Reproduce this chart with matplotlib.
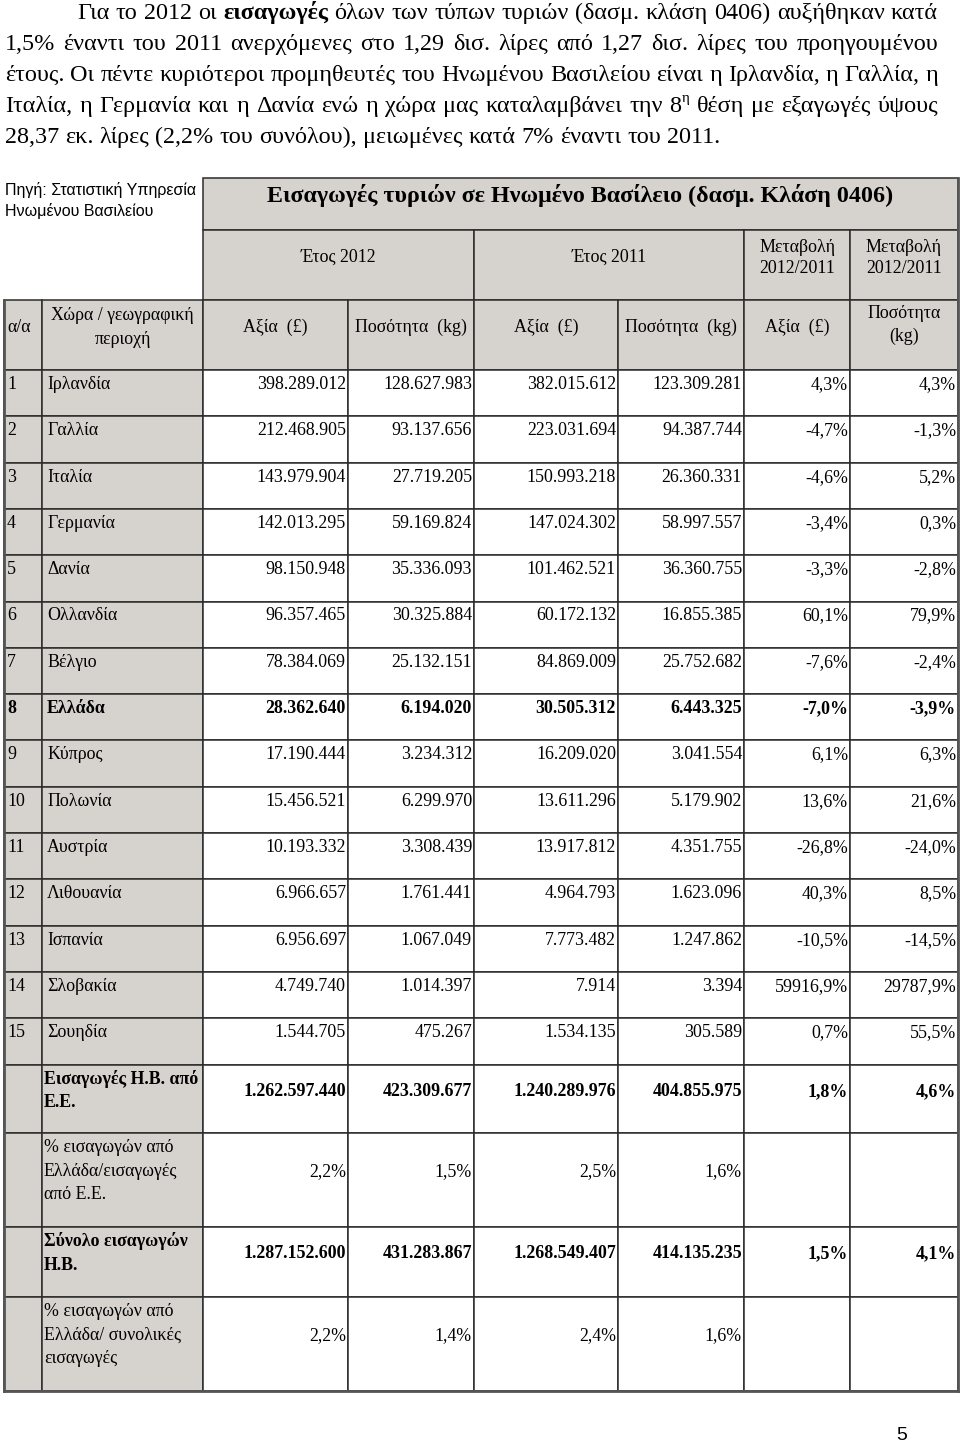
import matplotlib
matplotlib.use('Agg')
import matplotlib.pyplot as plt
from matplotlib.patches import Rectangle
from matplotlib import font_manager

# ---------------- data ----------------
paragraph = [
    "Για το 2012 οι *εισαγωγές* όλων των τύπων τυριών (δασμ. κλάση 0406) αυξήθηκαν κατά",
    "1,5% έναντι του 2011 ανερχόμενες στο 1,29 δισ. λίρες από 1,27 δισ. λίρες του προηγουμένου",
    "έτους. Οι πέντε κυριότεροι προμηθευτές του Ηνωμένου Βασιλείου είναι η Ιρλανδία, η Γαλλία, η",
    "Ιταλία, η Γερμανία και η Δανία ενώ η χώρα μας καταλαμβάνει την 8^η θέση με εξαγωγές ύψους",
    "28,37 εκ. λίρες (2,2% του συνόλου), μειωμένες κατά 7% έναντι του 2011.",
]
source_lines = ["Πηγή: Στατιστική Υπηρεσία", "Ηνωμένου Βασιλείου"]
table_title = "Εισαγωγές τυριών σε Ηνωμένο Βασίλειο (δασμ. Κλάση 0406)"
year_headers = ["Έτος 2012", "Έτος 2011"]
change_header = ["Μεταβολή", "2012/2011"]
col_headers = ["Αξία  (£)", "Ποσότητα  (kg)", "Αξία  (£)", "Ποσότητα  (kg)", "Αξία  (£)"]

ranks = list(range(1, 16))
countries = ["Ιρλανδία", "Γαλλία", "Ιταλία", "Γερμανία", "Δανία", "Ολλανδία", "Βέλγιο",
             "Ελλάδα", "Κύπρος", "Πολωνία", "Αυστρία", "Λιθουανία", "Ισπανία",
             "Σλοβακία", "Σουηδία"]
value_2012 = [398289012, 212468905, 143979904, 142013295, 98150948, 96357465, 78384069,
              28362640, 17190444, 15456521, 10193332, 6966657, 6956697, 4749740, 1544705]
qty_2012 = [128627983, 93137656, 27719205, 59169824, 35336093, 30325884, 25132151,
            6194020, 3234312, 6299970, 3308439, 1761441, 1067049, 1014397, 475267]
value_2011 = [382015612, 223031694, 150993218, 147024302, 101462521, 60172132, 84869009,
              30505312, 16209020, 13611296, 13917812, 4964793, 7773482, 7914, 1534135]
qty_2011 = [123309281, 94387744, 26360331, 58997557, 36360755, 16855385, 25752682,
            6443325, 3041554, 5179902, 4351755, 1623096, 1247862, 3394, 305589]
change_value = [4.3, -4.7, -4.6, -3.4, -3.3, 60.1, -7.6, -7.0, 6.1, 13.6, -26.8, 40.3,
                -10.5, 59916.9, 0.7]
change_qty = [4.3, -1.3, 5.2, 0.3, -2.8, 79.9, -2.4, -3.9, 6.3, 21.6, -24.0, 8.5,
              -14.5, 29787.9, 55.5]
bold_country = "Ελλάδα"

summary_labels = [
    ["Εισαγωγές Η.Β. από", "Ε.Ε."],
    ["% εισαγωγών από", "Ελλάδα/εισαγωγές", "από Ε.Ε."],
    ["Σύνολο εισαγωγών", "Η.Β."],
    ["% εισαγωγών από", "Ελλάδα/ συνολικές", "εισαγωγές"],
]
summary_bold = [True, False, True, False]
summary_ints = [
    [1262597440, 423309677, 1240289976, 404855975],
    None,
    [1287152600, 431283867, 1268549407, 414135235],
    None,
]
summary_pcts = [
    [1.8, 4.6],
    [2.2, 1.5, 2.5, 1.6],
    [1.5, 4.1],
    [2.2, 1.4, 2.4, 1.6],
]
page_number = "5"


def fmt_int(n):
    return f"{n:,}".replace(",", ".")


def fmt_pct(p):
    return f"{p:.1f}%".replace(".", ",")


# ---------------- figure ----------------
W, H = 960, 1443
fig = plt.figure(figsize=(9.6, 14.43), dpi=100)
fig.patch.set_facecolor("white")
ax = fig.add_axes([0, 0, 1, 1])
ax.set_xlim(0, W)
ax.set_ylim(H, 0)
ax.axis("off")
renderer = fig.canvas.get_renderer()

SERIF = ["Liberation Serif", "DejaVu Serif"]
installed = {f.name for f in font_manager.fontManager.ttflist}
if "Liberation Sans Narrow" in installed:
    SRC_SANS = ["Liberation Sans Narrow", "Liberation Sans", "DejaVu Sans"]
else:
    SRC_SANS = ["Liberation Sans", "DejaVu Sans"]
SANS = ["Liberation Sans", "DejaVu Sans"]
GREY = "#d6d3ce"
LINE = "#2b2b2b"
LW = 1.1


def tw(s, size, weight="normal", family=SERIF):
    t = ax.text(0, 0, s, fontsize=size, fontweight=weight, family=family)
    w = t.get_window_extent(renderer).width
    t.remove()
    return w


def put(x, y, s, size, weight="normal", ha="left", family=SERIF, color="black"):
    ax.text(x, y, s, fontsize=size, fontweight=weight, ha=ha, va="baseline",
            family=family, color=color)


# ---------------- paragraph ----------------
def parse_word(word):
    if word.startswith("*") and word.endswith("*"):
        return [(word.strip("*"), "bold", False)]
    if "^" in word:
        a, b = word.split("^")
        return [(a, "normal", False), (b, "normal", True)]
    return [(word, "normal", False)]


def word_width(segs, size):
    return sum(tw(s, size * (0.62 if sup else 1.0), wt) for s, wt, sup in segs)


ref = 13.0
pfs = ref * 711.0 / tw(paragraph[4], ref)
space = tw("a a", pfs) - tw("aa", pfs)
para_x0 = [77, 5, 5, 5, 5]
para_x1 = 938
para_base = [19, 50, 81, 112, 143]
for i, line in enumerate(paragraph):
    words = [parse_word(w) for w in line.split(" ")]
    widths = [word_width(w, pfs) for w in words]
    if i < 4:
        gap = (para_x1 - para_x0[i] - sum(widths)) / (len(words) - 1)
    else:
        gap = space
    x = para_x0[i]
    for segs, wdt in zip(words, widths):
        cx = x
        for s, wt, sup in segs:
            sz = pfs * (0.62 if sup else 1.0)
            yy = para_base[i] - (pfs * 100 / 72 * 0.42 if sup else 0)
            put(cx, yy, s, sz, wt)
            cx += tw(s, sz, wt)
        x += wdt + gap

# ---------------- table geometry ----------------
col_x = [4, 42, 203, 348, 474, 618, 744, 850, 958]
title_top, title_bot = 178, 230
hdr2_bot, hdr3_bot = 300, 370
row_h = 46.3
sum_edges = [1064.5, 1133, 1227, 1297, 1391]


def cell(x0, y0, x1, y1, fill):
    ax.add_patch(Rectangle((x0, y0), x1 - x0, y1 - y0, facecolor=fill,
                           edgecolor=LINE, lw=LW, zorder=1))


tfs = 12.0 * 143.0 / tw("Χώρα / γεωγραφική", 12.0)
title_fs = 13.0 * 623.0 / tw(table_title, 13.0, "bold")
src_fs = 11.0 * 190.0 / tw(source_lines[0], 11.0, family=SRC_SANS)

# source text
put(5, 195, source_lines[0], src_fs, family=SRC_SANS)
put(5, 216, source_lines[1], src_fs, family=SRC_SANS)

# title
cell(col_x[2], title_top, col_x[8], title_bot, GREY)
put((col_x[2] + col_x[8]) / 2, 202, table_title, title_fs, "bold", ha="center")

# header row 2
spans = [(2, 4), (4, 6), (6, 7), (7, 8)]
for k, (a, b) in enumerate(spans):
    cell(col_x[a], title_bot, col_x[b], hdr2_bot, GREY)
    cx = (col_x[a] + col_x[b]) / 2
    if k < 2:
        put(cx, 262, year_headers[k], tfs, ha="center")
    else:
        put(cx, 252, change_header[0], tfs, ha="center")
        put(cx, 273, change_header[1], tfs, ha="center")

# header row 3
for c in range(8):
    cell(col_x[c], hdr2_bot, col_x[c + 1], hdr3_bot, GREY)
put(col_x[0] + 3, 332, "α/α", tfs)
cx = (col_x[1] + col_x[2]) / 2
put(cx, 320, "Χώρα / γεωγραφική", tfs, ha="center")
put(cx, 344, "περιοχή", tfs, ha="center")
for c, label in enumerate(col_headers):
    put((col_x[c + 2] + col_x[c + 3]) / 2, 332, label, tfs, ha="center")
cx = (col_x[7] + col_x[8]) / 2
put(cx, 318, "Ποσότητα", tfs, ha="center")
put(cx, 341, "(kg)", tfs, ha="center")

# data rows
for i in range(len(countries)):
    y0 = hdr3_bot + i * row_h
    y1 = y0 + row_h
    for c in range(8):
        cell(col_x[c], y0, col_x[c + 1], y1, GREY if c < 2 else "white")
    wt = "bold" if countries[i] == bold_country else "normal"
    base = y0 + 19
    put(col_x[0] + 3, base, str(ranks[i]), tfs, wt)
    put(col_x[1] + 5, base, countries[i], tfs, wt)
    vals = [fmt_int(value_2012[i]), fmt_int(qty_2012[i]), fmt_int(value_2011[i]),
            fmt_int(qty_2011[i]), fmt_pct(change_value[i]), fmt_pct(change_qty[i])]
    for c, v in enumerate(vals):
        put(col_x[c + 3] - 2, base, v, tfs, wt, ha="right")

# summary rows
for r in range(4):
    y0, y1 = sum_edges[r], sum_edges[r + 1]
    for c in range(8):
        cell(col_x[c], y0, col_x[c + 1], y1, GREY if c < 2 else "white")
    wt = "bold" if summary_bold[r] else "normal"
    lines = summary_labels[r]
    first = y0 + 19
    for j, s in enumerate(lines):
        put(col_x[1] + 2, first + j * 23.5, s, tfs, wt)
    vbase = first + (len(lines) - 1) * 23.5 / 2 + 0.5
    vals = []
    if summary_ints[r] is not None:
        vals += [fmt_int(v) for v in summary_ints[r]]
    vals += [fmt_pct(p) for p in summary_pcts[r]]
    for c, v in enumerate(vals):
        put(col_x[c + 3] - 2, vbase, v, tfs, wt, ha="right")

# outer table border (thicker)
ax.plot([col_x[0], col_x[0]], [hdr2_bot, sum_edges[-1]], color="#555555", lw=2.0, zorder=3)
ax.plot([col_x[8], col_x[8]], [title_top, sum_edges[-1]], color="#555555", lw=2.0, zorder=3)
ax.plot([col_x[0], col_x[8]], [sum_edges[-1], sum_edges[-1]], color="#555555", lw=2.0, zorder=3)

# page number
put(902, 1440, page_number, 14, ha="center", family=SANS)

fig.savefig("out.png", dpi=100, facecolor="white")
